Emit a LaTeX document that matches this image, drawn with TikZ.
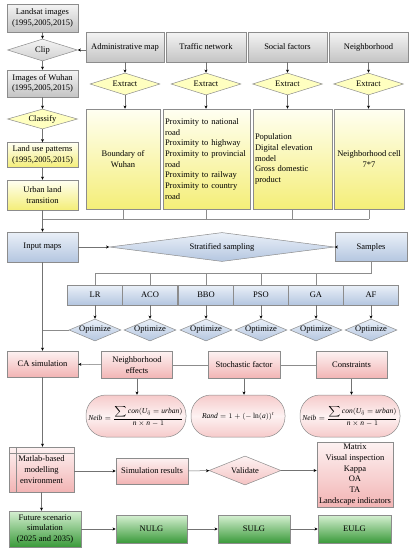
\documentclass[tikz,border=0pt]{standalone}
\usepackage{amsmath}
\usepackage{fontspec}
\setmainfont{Liberation Serif}
\usepackage{xcolor}
\usetikzlibrary{arrows.meta,shapes.geometric}

\definecolor{greytop}{HTML}{F4F4F4}
\definecolor{greybot}{HTML}{C4C4C4}
\definecolor{yeltop}{HTML}{FFFFF2}
\definecolor{yelbot}{HTML}{F4EE78}
\definecolor{yelfill}{HTML}{FFFFC0}
\definecolor{blutop}{HTML}{EAF0F8}
\definecolor{blubot}{HTML}{B4C6E0}
\definecolor{pnktop}{HTML}{FDF2F2}
\definecolor{pnkbot}{HTML}{F2B4B4}
\definecolor{grntop}{HTML}{D6F0D2}
\definecolor{grnbot}{HTML}{3A9A3A}
\definecolor{edge}{HTML}{8C8C8C}
\newcommand{\vit}[1]{\textit{#1}}

\begin{document}
\begin{tikzpicture}[x=1pt, y=-1pt,
  box/.style={rectangle, draw=edge, line width=0.5pt, align=center,
              font=\fontsize{8.5}{10.7}\selectfont, inner sep=1pt},
  grey/.style={box, top color=greytop, bottom color=greybot},
  yel/.style={box, top color=yeltop, bottom color=yelbot},
  blu/.style={box, top color=blutop, bottom color=blubot},
  pnk/.style={box, top color=pnktop, bottom color=pnkbot},
  grn/.style={box, top color=grntop, bottom color=grnbot},
  dia/.style={diamond, draw=edge, line width=0.5pt, inner sep=0pt, aspect=3.2,
              font=\fontsize{8.5}{10.7}\selectfont, minimum width=70, minimum height=22},
  ydia/.style={dia, fill=yelfill},
  gdia/.style={dia, top color=greytop, bottom color=greybot!80},
  bdia/.style={dia, top color=blutop, bottom color=blubot},
  pdia/.style={dia, top color=pnktop, bottom color=pnkbot!80},
  form/.style={draw=edge, line width=0.5pt, rounded corners=20pt, inner sep=1pt,
               top color=pnkbot!70, bottom color=pnkbot!70, middle color=pnktop,
               minimum height=42, font=\fontsize{7.5}{9}\selectfont},
  flow/.style={-{Stealth[length=3.2pt,width=3pt,black]}, draw=black!55, line width=0.5pt},
  link/.style={draw=black!45, line width=0.5pt}
]
\useasboundingbox (0,0) rectangle (413,550);

% left column
\node[grey, minimum width=71, minimum height=28] (landsat) at (42.5,18)   {Landsat images\\(1995,2005,2015)};
\node[gdia] (clip)     at (42.5,50)   {Clip};
\node[grey, minimum width=71, minimum height=27] (wuhan)   at (42.5,83.5) {Images of Wuhan\\(1995,2005,2015)};
\node[ydia, minimum height=20] (classify) at (42.5,119)  {Classify};
\node[yel, minimum width=71, minimum height=25] (landuse) at (42.5,155)  {Land use patterns\\(1995,2005,2015)};
\node[yel, minimum width=71, minimum height=30] (urban)   at (42.5,195)  {Urban land\\transition};

% data sources
\node[grey, minimum width=78, minimum height=30] (admin)   at (125,47)   {Administrative map};
\node[grey, minimum width=80, minimum height=30] (traffic) at (206,47)   {Traffic network};
\node[grey, minimum width=79, minimum height=30] (social)  at (287.5,47) {Social factors};
\node[grey, minimum width=79, minimum height=30] (neighb)  at (368.5,47) {Neighborhood};
\node[ydia] (ext1) at (125,84)   {Extract};
\node[ydia] (ext2) at (206,84)   {Extract};
\node[ydia] (ext3) at (287.5,84) {Extract};
\node[ydia] (ext4) at (368.5,84) {Extract};
\node[yel, minimum width=74, minimum height=100] (bnd) at (123,159) {Boundary of\\Wuhan};
\node[yel, minimum width=87, minimum height=100, text width=83, align=left] (trf) at (206.5,159)
  {Proximity to national\\road\\Proximity to highway\\Proximity to provincial\\road\\Proximity to railway\\Proximity to country\\road};
\node[yel, minimum width=79, minimum height=100, text width=75, align=left] (soc) at (292.5,159)
  {Population\\Digital elevation\\model\\Gross domestic\\product};
\node[yel, minimum width=70, minimum height=100] (nbc) at (369,159) {Neighborhood cell\\7*7};
\coordinate (busL) at (42.5,219);
\coordinate (busR) at (369,219);

% sampling and calibration
\node[blu, minimum width=71, minimum height=30] (input)   at (42.5,247) {Input maps};
\node[bdia, aspect=7, minimum width=225, minimum height=29] (strat) at (222,247) {Stratified sampling};
\node[blu, minimum width=72, minimum height=29] (samples) at (371,247)  {Samples};
\node[blu, minimum width=55, minimum height=20] (lr)  at (95,295)  {LR};
\node[blu, minimum width=55, minimum height=20] (aco) at (150,295) {ACO};
\node[blu, minimum width=55, minimum height=20] (bbo) at (206,295) {BBO};
\node[blu, minimum width=55, minimum height=20] (pso) at (261,295) {PSO};
\node[blu, minimum width=55, minimum height=20] (ga)  at (316,295) {GA};
\node[blu, minimum width=55, minimum height=20] (af)  at (371,295) {AF};
\node[bdia, aspect=2.4, minimum width=52] (opt1) at (95,330)  {Optimize};
\node[bdia, aspect=2.4, minimum width=52] (opt2) at (150,330) {Optimize};
\node[bdia, aspect=2.4, minimum width=52] (opt3) at (206,330) {Optimize};
\node[bdia, aspect=2.4, minimum width=52] (opt4) at (261,330) {Optimize};
\node[bdia, aspect=2.4, minimum width=52] (opt5) at (316,330) {Optimize};
\node[bdia, aspect=2.4, minimum width=52] (opt6) at (371,330) {Optimize};
\coordinate (algbus) at (95,273);
\coordinate (optjoin) at (42.5,330);

% CA model
\node[pnk, minimum width=71, minimum height=26] (ca)    at (42.5,364) {CA simulation};
\node[pnk, minimum width=71, minimum height=27] (neigh) at (137,365)  {Neighborhood\\effects};
\node[pnk, minimum width=72, minimum height=27] (stoch) at (244,365)  {Stochastic factor};
\node[pnk, minimum width=71, minimum height=27] (cons)  at (351.5,365) {Constraints};
\node[form, minimum width=100] (f1) at (136,416)
  {$\vit{Neib}=\dfrac{\displaystyle\sum \vit{con}(\vit{U}_{\vit{ij}}=\vit{urban})}{\vit{n}\times \vit{n}-1}$};
\node[form, minimum width=94] (f2) at (238,416)
  {$\vit{Rand}=1+(-\ln(\vit{a}))^{\vit{t}}$};
\node[form, minimum width=100] (f3) at (350,416)
  {$\vit{Neib}=\dfrac{\displaystyle\sum \vit{con}(\vit{U}_{\vit{ij}}=\vit{urban})}{\vit{n}\times \vit{n}-1}$};

% simulation and validation
\node[pnk, minimum width=65, minimum height=45] (matlab) at (41.5,469.5) {Matlab-based\\modelling\\environment};
\node[pnk, minimum width=72, minimum height=26] (simres) at (152,471)   {Simulation results};
\node[pdia, aspect=2.6, minimum width=72, minimum height=29] (valid) at (245,470.5) {Validate};
\node[pnk, minimum width=76, minimum height=65] (metrics) at (355,474.5)
  {Matrix\\Visual inspection\\Kappa\\OA\\TA\\Landscape indicators};

% scenarios
\node[grn, minimum width=72, minimum height=36] (future) at (45,529)    {Future scenario\\simulation\\(2025 and 2035)};
\node[grn, minimum width=71, minimum height=28] (nulg)   at (151.5,529) {NULG};
\node[grn, minimum width=72, minimum height=28] (sulg)   at (254,529)   {SULG};
\node[grn, minimum width=73, minimum height=28] (eulg)   at (354.5,529) {EULG};

% connectors
\draw[link] ([xshift=7pt]matlab.north west) -- ([xshift=7pt]matlab.south west);
\draw[link] ([yshift=-6pt]matlab.north west) -- ([yshift=-6pt]matlab.north east);
\draw[flow] (landsat) -- (clip);
\draw[flow] (clip.east -| admin.west) -- (clip.east);
\draw[flow] (clip) -- (wuhan);
\draw[flow] (wuhan) -- (classify);
\draw[flow] (classify) -- (landuse);
\draw[flow] (landuse) -- (urban);
\draw[flow] (admin) -- (ext1);
\draw[flow] (traffic) -- (ext2);
\draw[flow] (social) -- (ext3);
\draw[flow] (neighb) -- (ext4);
\draw[flow] (ext1.south) -- (ext1.south |- bnd.north);
\draw[flow] (ext2.south) -- (ext2.south |- trf.north);
\draw[flow] (ext3.south) -- (ext3.south |- soc.north);
\draw[flow] (ext4.south) -- (ext4.south |- nbc.north);
\draw[link] (bnd.south) -- (bnd.south |- busL);
\draw[link] (trf.south) -- (trf.south |- busL);
\draw[link] (soc.south) -- (soc.south |- busL);
\draw[link] (nbc.south) -- (nbc.south |- busL);
\draw[link] (busL) -- (busR);
\draw[flow] (urban) -- (input);
\draw[flow] (input) -- (strat);
\draw[flow] (strat) -- (samples);
\draw[link] (samples.south) -- (samples.south |- algbus) -- (algbus) -- (lr.north);
\foreach \a in {aco,bbo,pso,ga}
  \draw[link] (\a.north |- algbus) -- (\a.north);
\draw[flow] (lr) -- (opt1);
\draw[flow] (aco) -- (opt2);
\draw[flow] (bbo) -- (opt3);
\draw[flow] (pso) -- (opt4);
\draw[flow] (ga) -- (opt5);
\draw[flow] (af) -- (opt6);
\draw[link] (opt1.west) -- (optjoin);
\draw[flow] (input) -- (ca);
\draw[link] (cons) -- (stoch);
\draw[link] (stoch) -- (neigh);
\draw[flow] (neigh) -- (ca);
\draw[flow] (neigh) -- (f1.north -| neigh.south);
\draw[flow] (stoch) -- (f2.north -| stoch.south);
\draw[flow] (cons) -- (f3.north -| cons.south);
\draw[flow] (ca.south) -- (ca.south |- matlab.north);
\draw[flow] (matlab.east |- simres) -- (simres);
\draw[flow] (simres) -- (valid);
\draw[flow] (valid) -- (metrics.west |- valid);
\draw[flow] (matlab.south) -- (matlab.south |- future.north);
\draw[flow] (future) -- (nulg);
\draw[flow] (nulg) -- (sulg);
\draw[flow] (sulg) -- (eulg);
\end{tikzpicture}
\end{document}
